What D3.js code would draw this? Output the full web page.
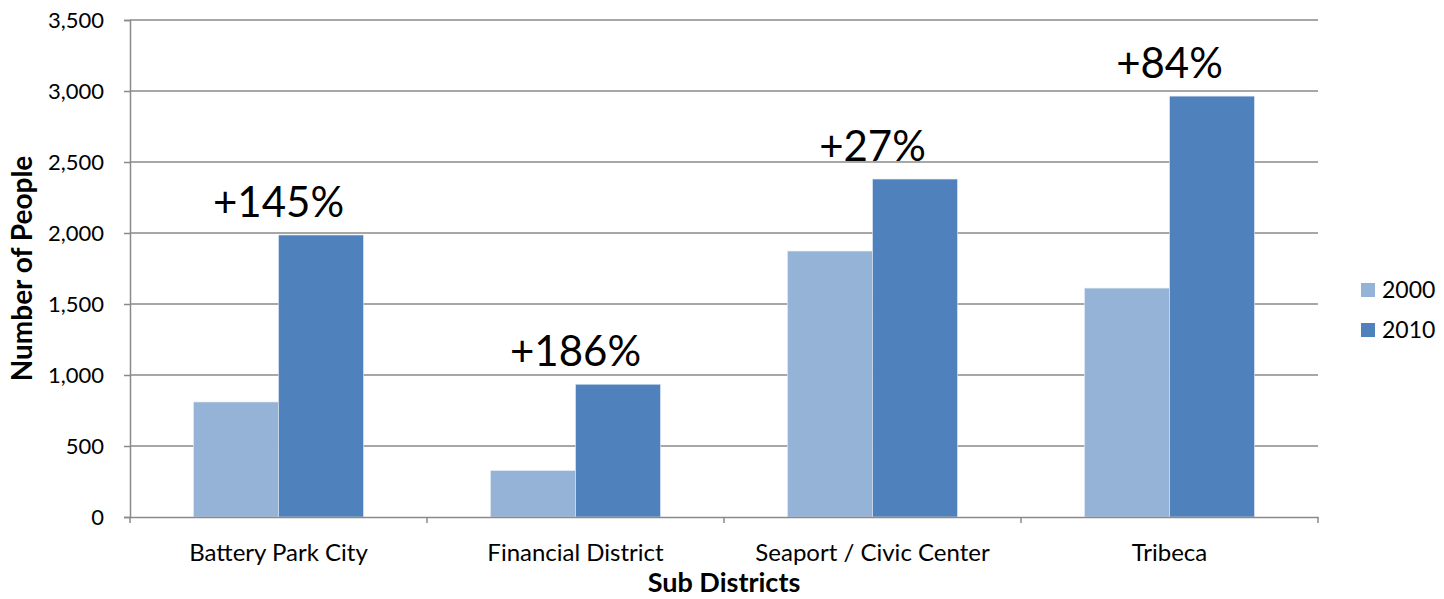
<!DOCTYPE html>
<html>
<head>
<meta charset="utf-8">
<script src="https://cdn.jsdelivr.net/npm/d3@7"></script>
<style>
    body { margin: 0; background: #fff; }
    svg text { font-family: "Gill Sans", Lato, "Open Sans", sans-serif; fill: #000; }
</style>
</head>
<body>
<svg id="chart"></svg>
<script>
// Sub-district population, 2000 vs 2010

const districts = ['Battery Park City', 'Financial District', 'Seaport / Civic Center', 'Tribeca'];
const years = ['2000', '2010'];
const values2000 = [810, 327, 1873, 1612];
const values2010 = [1986, 935, 2380, 2964];
const growthLabels = ['+145%', '+186%', '+27%', '+84%'];
const yTicks = [0, 500, 1000, 1500, 2000, 2500, 3000, 3500];

const colors = { '2000': '#95b3d7', '2010': '#4f81bd' };

const width = 1444;
const height = 599;
const margin = { top: 20, right: 126, bottom: 82, left: 130 };
const plotW = width - margin.left - margin.right;
const plotH = height - margin.top - margin.bottom;

const svg = d3.select('#chart')
    .attr('width', width)
    .attr('height', height);

const g = svg.append('g')
    .attr('transform', `translate(${margin.left},${margin.top})`);

const x = d3.scaleBand()
    .domain(districts)
    .range([0, plotW])
    .paddingInner(0)
    .paddingOuter(0);

// two bars per group, ~57% of the category width
const xInner = d3.scaleBand()
    .domain(years)
    .range([x.bandwidth() * 0.2138, x.bandwidth() * 0.7862]);

const y = d3.scaleLinear()
    .domain([0, 3500])
    .range([plotH, 0]);

// Gridlines
g.append('g')
    .selectAll('line')
    .data(yTicks.filter(t => t > 0))
    .join('line')
    .attr('x1', 0)
    .attr('x2', plotW)
    .attr('y1', d => y(d))
    .attr('y2', d => y(d))
    .attr('stroke', '#8a8a8a')
    .attr('stroke-width', 1.5);

// Bars
const rows = districts.map((d, i) => ({ district: d, '2000': values2000[i], '2010': values2010[i] }));

g.append('g')
    .selectAll('g')
    .data(rows)
    .join('g')
    .attr('transform', d => `translate(${x(d.district)},0)`)
    .selectAll('rect')
    .data(d => years.map(k => ({ key: k, value: d[k] })))
    .join('rect')
    .attr('x', d => xInner(d.key))
    .attr('y', d => y(d.value))
    .attr('width', xInner.bandwidth())
    .attr('height', d => plotH - y(d.value))
    .attr('fill', d => colors[d.key])
    .attr('stroke', '#e4ebf5')
    .attr('stroke-width', 0.6);

// Y axis
const yAxis = g.append('g')
    .call(d3.axisLeft(y).tickValues(yTicks).tickSize(6).tickPadding(20).tickFormat(d3.format(',')));
yAxis.select('.domain').attr('stroke', '#8a8a8a').attr('stroke-width', 1.5);
yAxis.selectAll('.tick line').attr('stroke', '#8a8a8a').attr('stroke-width', 1.5);
yAxis.selectAll('.tick text').style('font-size', '22px');

// X axis
const xAxis = g.append('g')
    .attr('transform', `translate(0,${plotH})`)
    .call(d3.axisBottom(x).tickSize(0).tickPadding(27));
xAxis.select('.domain').attr('stroke', '#8a8a8a').attr('stroke-width', 1.5);
xAxis.selectAll('.tick text').style('font-size', '24px');

// category boundary ticks
g.append('g')
    .selectAll('line')
    .data(d3.range(districts.length + 1))
    .join('line')
    .attr('x1', i => i * x.step())
    .attr('x2', i => i * x.step())
    .attr('y1', plotH)
    .attr('y2', plotH + 6)
    .attr('stroke', '#8a8a8a')
    .attr('stroke-width', 1.5);

// Growth labels
g.append('g')
    .selectAll('text')
    .data(rows)
    .join('text')
    .attr('x', d => x(d.district) + x.bandwidth() / 2)
    .attr('y', d => y(Math.max(d['2000'], d['2010'])) - 18)
    .attr('text-anchor', 'middle')
    .style('font-size', '42px')
    .text((d, i) => growthLabels[i]);

// Axis titles
svg.append('text')
    .attr('transform', `translate(32,${margin.top + plotH / 2}) rotate(-90)`)
    .attr('text-anchor', 'middle')
    .style('font-size', '28px')
    .style('font-weight', 'bold')
    .text('Number of People');

svg.append('text')
    .attr('x', margin.left + plotW / 2)
    .attr('y', 592)
    .attr('text-anchor', 'middle')
    .style('font-size', '27px')
    .style('font-weight', 'bold')
    .text('Sub Districts');

// Legend
const legend = svg.append('g')
    .attr('transform', 'translate(1361,283)')
    .selectAll('g')
    .data(years)
    .join('g')
    .attr('transform', (d, i) => `translate(0,${i * 40})`);

legend.append('rect')
    .attr('width', 14)
    .attr('height', 14)
    .attr('fill', d => colors[d]);

legend.append('text')
    .attr('x', 21)
    .attr('y', 7)
    .attr('dy', '0.35em')
    .style('font-size', '23px')
    .text(d => d);
</script>
</body>
</html>
